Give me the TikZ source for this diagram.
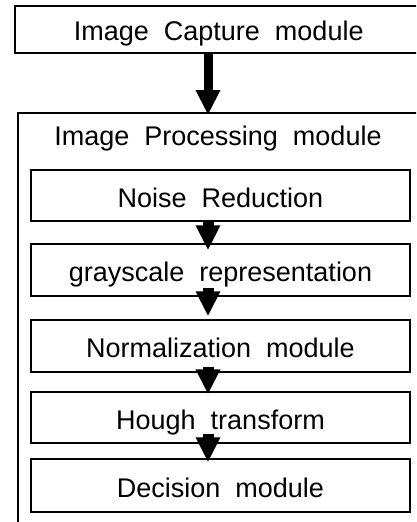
\documentclass[tikz,border=0pt]{standalone}
\usepackage{fontspec}
\setmainfont{Liberation Sans}
\usetikzlibrary{arrows.meta,calc}
\begin{document}
\begin{tikzpicture}[x=1pt,y=-1pt,
  txt/.style={inner sep=0pt,text height=23pt,text depth=0pt,
    font={\fontsize{27}{32}\selectfont\spaceskip=15pt plus 2pt minus 1pt}},
  box/.style={txt,draw,line width=1.5pt},
  inbox/.style={box,minimum width=379pt},
  bigarrow/.style={line width=9pt,-{Triangle[width=23pt,length=25pt]}},
  smallarrow/.style={line width=11pt,-{Triangle[width=23pt,length=25pt]}}]
\useasboundingbox (0,0) rectangle (416,522);
\clip (0,0) rectangle (416,522);
\node[box,anchor=north west,minimum width=408pt,minimum height=47pt] (capture) at (14,5) {Image Capture module};
\node[draw,line width=1.5pt,inner sep=0pt,anchor=north west,minimum width=420pt,minimum height=430pt] (proc) at (17,112) {};
\node[txt] (proclabel) at (218,133.7) {Image Processing module};
\node[inbox,minimum height=51pt] (nr) at (220.5,195.5) {Noise Reduction};
\node[inbox,minimum height=52pt] (gs) at (220.5,270) {grayscale representation};
\node[inbox,minimum height=52pt] (norm) at (220.5,346) {Normalization module};
\node[inbox,minimum height=51pt] (hough) at (220.5,417.5) {Hough transform};
\node[inbox,minimum height=53pt] (dec) at (220.5,485.5) {Decision module};
\coordinate (ax) at (208,0);
\draw[bigarrow] (capture.south -| ax) -- ($(proc.north -| ax)+(0,3)$);
\draw[smallarrow] (nr.south -| ax) -- ($(gs.north -| ax)+(0,7)$);
\draw[smallarrow] ($(gs.south -| ax)+(0,-9)$) -- ($(norm.north -| ax)+(0,-3)$);
\draw[smallarrow] ($(norm.south -| ax)+(0,-6)$) -- ($(hough.north -| ax)+(0,3)$);
\draw[smallarrow] ($(hough.south -| ax)+(0,-10)$) -- ($(dec.north -| ax)+(0,4)$);
\end{tikzpicture}
\end{document}
